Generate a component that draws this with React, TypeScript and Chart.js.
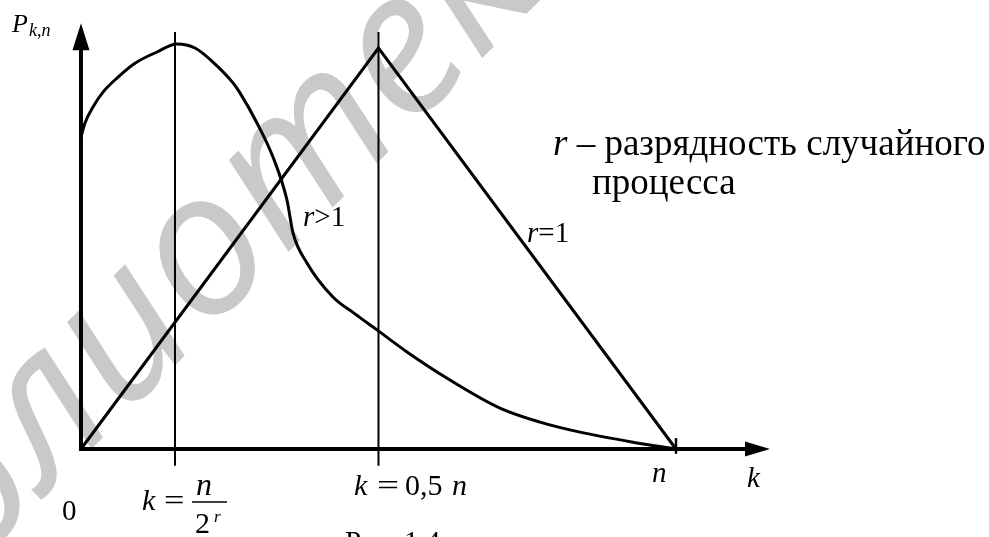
import { useEffect, useRef } from "react";
import { Chart, registerables } from "chart.js";

Chart.register(...registerables);

// r > 1 curve: k (fraction of n) and P_{k,n} (relative)
const curveK = [0, 0.0067, 0.0202, 0.037, 0.0605, 0.0908, 0.1277, 0.1613, 0.1916, 0.2218, 0.2555, 0.2672, 0.2958, 0.3227, 0.3462, 0.3563, 0.3798, 0.4235, 0.4605, 0.4975, 0.5479, 0.6202, 0.7042, 0.7714, 0.8387, 0.9277, 1];
const curveP = [0.778, 0.813, 0.853, 0.89, 0.925, 0.962, 0.99, 1.01, 1.0, 0.965, 0.913, 0.888, 0.813, 0.728, 0.621, 0.539, 0.464, 0.379, 0.337, 0.297, 0.242, 0.172, 0.102, 0.067, 0.042, 0.017, 0];
// r = 1 triangle
const triangleK = [0, 0.5, 1];
const triangleP = [0, 1, 0];
// vertical markers at k = n/2^r and k = 0.5n
const markerK = [0.158, 0.5];
const markerSpan = [-0.042, 1.04];
const nTickSpan = [-0.012, 0.027];
// axes extents (to arrow tips)
const axisKEnd = 1.158;
const axisPEnd = 1.062;
const kRange = [-0.1361, 1.5261];
const pRange = [-0.2195, 1.1197];

const SERIF = "'Liberation Serif', 'Times New Roman', serif";

type Run = [string, string, number?];
function drawRuns(ctx: CanvasRenderingContext2D, x: number, y: number, runs: Run[]) {
  let cx = x;
  for (const [text, font, sx] of runs) {
    ctx.font = font;
    const w = ctx.measureText(text).width;
    const s = sx || 1;
    ctx.save();
    ctx.translate(cx, y);
    ctx.scale(s, 1);
    ctx.fillText(text, 0, 0);
    ctx.restore();
    cx += w * s;
  }
}

const decorPlugin = {
  id: "decor",
  beforeDatasetsDraw(chart: any) {
    const ctx: CanvasRenderingContext2D = chart.ctx;
    // watermark
    ctx.save();
    ctx.fillStyle = "#c9c9c9";
    const S = 200;
    ctx.font = `italic ${S}px 'Open Sans'`;
    const ang = (-45 * Math.PI) / 180;
    const pre = ctx.measureText("Библио").width;
    const wt = ctx.measureText("т").width;
    const u = pre + wt / 2;
    const h = 0.27 * S;
    const tx = 308, ty = 156;
    const ox = tx - (u * Math.cos(ang) + h * Math.sin(ang));
    const oy = ty - (u * Math.sin(ang) - h * Math.cos(ang));
    ctx.translate(ox, oy);
    ctx.rotate(ang);
    ctx.textBaseline = "alphabetic";
    ctx.fillText("Библиотека", 0, 0);
    ctx.restore();
  },
  afterDatasetsDraw(chart: any) {
    const ctx: CanvasRenderingContext2D = chart.ctx;
    const xs = chart.scales.x;
    const ys = chart.scales.y;
    const X = (v: number) => xs.getPixelForValue(v);
    const Y = (v: number) => ys.getPixelForValue(v);
    ctx.save();
    ctx.strokeStyle = "#000";
    ctx.fillStyle = "#000";
    // axes
    ctx.lineWidth = 4;
    ctx.beginPath();
    ctx.moveTo(X(0), Y(0));
    ctx.lineTo(X(axisKEnd) - 20, Y(0));
    ctx.moveTo(X(0), Y(0) + 2);
    ctx.lineTo(X(0), Y(axisPEnd) + 20);
    ctx.stroke();
    // arrowheads
    ctx.beginPath();
    ctx.moveTo(X(axisKEnd), Y(0));
    ctx.lineTo(X(axisKEnd) - 25, Y(0) - 7.5);
    ctx.lineTo(X(axisKEnd) - 25, Y(0) + 7.5);
    ctx.closePath();
    ctx.fill();
    ctx.beginPath();
    ctx.moveTo(X(0), Y(axisPEnd));
    ctx.lineTo(X(0) - 8.5, Y(axisPEnd) + 27);
    ctx.lineTo(X(0) + 8.5, Y(axisPEnd) + 27);
    ctx.closePath();
    ctx.fill();
    // tick at n
    ctx.lineWidth = 2.5;
    ctx.beginPath();
    ctx.moveTo(X(1), Y(nTickSpan[0]));
    ctx.lineTo(X(1), Y(nTickSpan[1]));
    ctx.stroke();

    // texts
    ctx.textBaseline = "alphabetic";
    ctx.textAlign = "left";
    const it = (s: number) => `italic ${s}px ${SERIF}`;
    const rg = (s: number) => `${s}px ${SERIF}`;
    drawRuns(ctx, 12, 32, [["P", it(26)]]);
    drawRuns(ctx, 29, 36, [["k,n", it(18)]]);

    drawRuns(ctx, 553, 155, [["r", it(37)], [" – разрядность случайного", rg(37)]]);
    drawRuns(ctx, 592, 194, [["процесса", rg(37)]]);

    drawRuns(ctx, 303, 226, [["r", it(29)], [">1", rg(29)]]);
    drawRuns(ctx, 527, 242, [["r", it(29)], ["=1", rg(29)]]);

    drawRuns(ctx, 62, 520, [["0", rg(29)]]);

    // k = n / 2^r
    drawRuns(ctx, 142, 510, [["k", it(30)]]);
    drawRuns(ctx, 164, 510, [["=", rg(29), 1.25]]);
    ctx.lineWidth = 1.5;
    ctx.beginPath();
    ctx.moveTo(192, 502);
    ctx.lineTo(227, 502);
    ctx.stroke();
    drawRuns(ctx, 196, 495, [["n", it(32)]]);
    drawRuns(ctx, 195, 533, [["2", rg(30)]]);
    drawRuns(ctx, 214, 522, [["r", it(17)]]);

    // k = 0,5 n
    drawRuns(ctx, 354, 495, [["k", it(30)]]);
    drawRuns(ctx, 377, 495, [["=", rg(29), 1.35]]);
    drawRuns(ctx, 405, 495, [["0,5", rg(30)]]);
    drawRuns(ctx, 452, 495, [["n", it(30)]]);

    drawRuns(ctx, 652, 482, [["n", it(29)]]);
    drawRuns(ctx, 747, 487, [["k", it(29)]]);

    drawRuns(ctx, 345, 551, [["Рис. 1.4", rg(29)]]);
    ctx.restore();
  },
};

export default function App() {
  const ref = useRef<HTMLCanvasElement | null>(null);
  useEffect(() => {
    document.body.style.margin = "0";
    const canvas = ref.current!;
    const pts = (ks: number[], ps: number[]) => ks.map((k, i) => ({ x: k, y: ps[i] }));
    const chart = new Chart(canvas, {
      type: "line",
      data: {
        datasets: [
          {
            label: "r>1",
            data: pts(curveK, curveP),
            borderColor: "#000",
            borderWidth: 3,
            pointRadius: 0,
            cubicInterpolationMode: "monotone",
            fill: false,
          },
          {
            label: "r=1",
            data: pts(triangleK, triangleP),
            borderColor: "#000",
            borderWidth: 3,
            pointRadius: 0,
            tension: 0,
            fill: false,
          },
          ...markerK.map((k) => ({
            label: "marker",
            data: [
              { x: k, y: markerSpan[0] },
              { x: k, y: markerSpan[1] },
            ],
            borderColor: "#000",
            borderWidth: 2,
            pointRadius: 0,
            tension: 0,
            fill: false,
          })),
        ],
      },
      options: {
        animation: false,
        responsive: false,
        devicePixelRatio: 1,
        layout: { padding: 0 },
        plugins: { legend: { display: false }, tooltip: { enabled: false }, title: { display: false } },
        scales: {
          x: { type: "linear", min: kRange[0], max: kRange[1], display: false },
          y: { type: "linear", min: pRange[0], max: pRange[1], display: false },
        },
      },
      plugins: [decorPlugin],
    } as any);
    return () => chart.destroy();
  }, []);
  return (
    <div style={{ position: "fixed", left: 0, top: 0, width: 989, height: 537, background: "#fff" }}>
      <canvas ref={ref} width={989} height={537} style={{ display: "block" }} />
    </div>
  );
}
